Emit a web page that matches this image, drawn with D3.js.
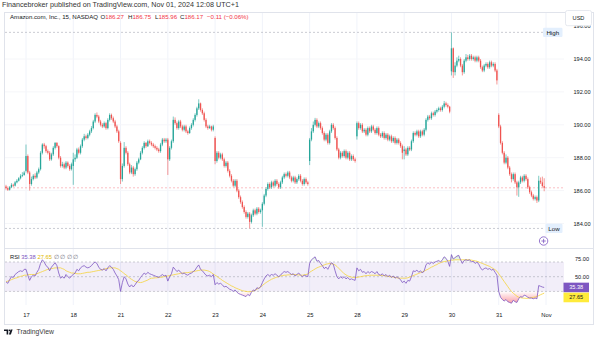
<!DOCTYPE html>
<html><head><meta charset="utf-8">
<script src="https://cdn.jsdelivr.net/npm/d3@7"></script>
<style>
html,body{margin:0;padding:0;background:#fff;}
svg{display:block;font-family:"Liberation Sans",Arial,sans-serif;}
</style></head><body>
<svg id="chart" width="600" height="337"></svg>
<script>
// Session start (bar index) and label of each trading day on the time axis
const dayStarts = [11, 37, 63, 89, 115, 141, 167, 193, 219, 245, 271, 297];
const dayLabels = ["17", "18", "21", "22", "23", "24", "25", "28", "29", "30", "31", "Nov"];
const priceTicks = [184, 186, 188, 190, 192, 194, 196];
const rsiTicks = [75, 50];
const rsiBands = [70, 50, 30];

// AMZN 15-minute bars, Oct 16 (last hour) to Oct 31
const opens = [
  186.25,186.15,186.05,186.20,186.35,186.30,186.50,186.60,186.75,186.90,186.95,
  187.20,188.10,187.10,186.40,186.70,186.90,186.80,187.10,187.30,188.30,188.80,188.70,188.40,188.30,187.90,188.20,188.60,188.90,188.70,188.00,187.50,187.60,187.40,187.70,187.50,187.30,
  187.50,187.90,188.00,188.50,188.30,188.70,189.10,189.30,189.20,189.40,189.60,189.80,190.20,190.60,190.50,190.20,190.00,189.90,190.10,189.80,190.30,190.60,190.40,190.20,189.90,189.60,
  188.90,186.70,187.50,188.60,188.30,187.60,187.10,187.40,187.00,187.30,187.70,187.90,188.30,188.60,188.90,188.70,189.00,188.90,188.80,188.70,188.60,188.50,188.40,188.80,189.10,189.00,
  189.10,187.90,188.60,189.00,190.30,190.10,189.80,190.20,189.90,189.70,189.90,189.60,189.50,189.80,190.00,190.30,190.60,191.00,191.30,190.90,190.70,190.30,189.90,189.80,189.90,189.70,
  189.20,187.80,188.30,188.00,188.20,187.90,187.50,187.70,187.20,186.90,186.60,186.30,186.60,186.00,185.60,185.30,185.00,184.70,184.40,184.60,184.10,184.50,184.80,184.60,184.90,184.70,
  184.80,185.20,185.70,186.10,186.40,186.20,186.50,186.30,186.60,186.40,186.20,186.50,186.80,187.00,186.90,187.10,186.80,186.60,186.80,186.50,186.70,186.90,186.60,186.40,186.70,186.50,
  187.80,189.10,189.60,190.00,190.30,189.90,190.10,189.80,189.50,189.10,189.40,188.90,189.60,190.00,189.80,189.20,188.50,188.00,188.30,188.10,188.40,188.00,188.30,187.90,188.10,187.90,
  189.30,190.10,189.80,190.00,189.60,189.70,189.40,189.80,189.60,189.90,189.70,189.50,189.80,189.40,189.30,189.50,189.20,189.40,189.10,189.30,189.00,189.20,188.90,189.10,188.90,188.70,
  188.40,188.50,188.20,188.60,188.50,189.00,189.50,189.40,189.60,189.30,189.60,189.40,189.70,190.30,190.50,190.40,190.70,190.60,190.80,190.90,191.00,190.90,191.10,191.30,191.20,191.10,
  193.25,194.65,193.20,193.60,193.90,194.00,193.60,193.20,193.90,194.10,194.00,194.20,194.00,194.10,193.90,194.10,193.90,193.50,193.30,193.60,193.70,193.50,193.80,193.60,193.70,193.30,
  190.60,189.90,188.90,188.30,187.70,188.00,187.40,187.00,186.70,187.00,186.50,186.20,186.50,186.80,186.60,186.90,186.70,186.20,185.90,185.70,185.50,185.60,185.40,186.60,186.50,186.27
];
const highs = [
  186.35,186.25,186.28,186.45,186.42,186.58,186.70,186.82,187.00,187.12,187.20,
  188.80,188.20,187.20,186.85,187.00,187.05,187.20,187.40,188.40,188.88,188.90,188.78,188.50,188.40,188.30,188.70,188.95,188.95,188.75,188.10,187.75,187.70,187.80,187.78,187.60,187.70,
  188.30,188.20,188.60,188.62,188.80,189.20,189.45,189.40,189.50,189.70,189.92,190.30,190.70,190.75,190.60,190.30,190.10,190.20,190.18,190.40,190.70,190.68,190.50,190.30,190.00,189.70,
  189.00,187.65,188.95,188.70,188.40,187.70,187.55,187.50,187.40,187.80,188.00,188.40,188.70,189.00,188.95,189.10,189.10,189.00,188.90,188.80,188.70,188.60,188.90,189.20,189.20,189.20,
  189.20,188.70,189.10,190.50,190.45,190.20,190.30,190.30,190.00,190.00,190.00,189.70,189.90,190.10,190.40,190.70,191.10,191.55,191.35,191.00,190.80,190.40,190.00,190.00,189.95,190.00,
  189.30,188.40,188.40,188.30,188.30,188.00,187.80,187.80,187.30,187.00,186.70,186.70,186.70,186.10,185.70,185.40,185.10,184.80,184.70,184.70,184.60,184.90,184.90,185.00,185.00,184.90,
  185.30,185.80,186.20,186.50,186.50,186.60,186.60,186.70,186.70,186.50,186.60,186.90,187.10,187.10,187.20,187.20,186.90,186.90,186.90,186.80,187.00,187.00,186.70,186.80,186.80,186.60,
  189.20,189.80,190.20,190.42,190.40,190.20,190.20,189.90,189.60,189.50,189.50,189.70,190.10,190.10,189.90,189.30,188.60,188.40,188.40,188.50,188.50,188.40,188.40,188.20,188.20,188.00,
  190.20,190.20,190.10,190.10,189.80,189.80,189.90,189.90,190.00,190.00,189.80,189.90,189.90,189.50,189.60,189.60,189.50,189.50,189.40,189.40,189.30,189.30,189.20,189.20,189.00,188.80,
  188.70,188.60,188.70,188.70,189.10,189.60,189.60,189.70,189.70,189.70,189.70,189.80,190.40,190.60,190.60,190.80,190.80,190.90,191.00,191.10,191.10,191.20,191.45,191.40,191.30,191.15,
  195.62,194.70,193.80,194.10,194.20,194.10,193.70,194.00,194.30,194.25,194.30,194.30,194.20,194.20,194.20,194.20,194.00,193.60,193.70,193.80,193.80,193.90,193.90,193.80,193.80,193.40,
  190.70,190.00,189.00,188.40,188.20,188.10,187.50,187.10,187.10,187.10,186.60,186.60,186.90,186.90,187.00,187.00,186.80,186.30,186.00,185.80,185.70,185.70,186.90,186.80,186.85,186.75
];
const lows = [
  186.05,185.98,186.00,186.15,186.22,186.25,186.44,186.55,186.68,186.82,186.90,
  187.10,187.00,186.00,186.30,186.62,186.70,186.72,187.00,187.22,188.20,188.55,188.30,188.20,187.80,187.82,188.10,188.50,188.60,187.90,187.40,187.40,187.30,187.30,187.40,187.20,187.22,
  186.35,187.75,187.92,188.20,188.20,188.60,189.00,189.10,189.12,189.30,189.50,189.72,190.10,190.40,190.10,189.90,189.80,189.82,189.70,189.72,190.20,190.30,190.10,189.80,189.50,188.90,
  186.40,186.55,187.40,188.20,187.50,187.00,187.00,186.85,186.90,187.20,187.60,187.85,188.20,188.50,188.60,188.65,188.80,188.70,188.60,188.50,188.40,188.30,188.30,188.70,188.90,188.90,
  186.95,187.80,188.50,188.90,190.00,189.70,189.70,189.80,189.60,189.60,189.50,189.40,189.45,189.70,189.90,190.20,190.50,190.90,190.80,190.60,190.20,189.80,189.70,189.75,189.60,189.60,
  187.60,187.70,187.90,187.90,187.80,187.40,187.40,187.10,186.80,186.50,186.20,186.20,185.90,185.50,185.20,184.90,184.60,184.30,184.30,183.70,184.00,184.40,184.50,184.50,184.60,184.60,
  183.80,185.10,185.60,186.00,186.10,186.10,186.20,186.20,186.30,186.10,186.10,186.40,186.70,186.80,186.80,186.70,186.50,186.50,186.40,186.40,186.60,186.50,186.30,186.30,186.40,186.30,
  187.55,189.00,189.50,189.90,189.80,189.80,189.70,189.40,189.00,189.00,188.80,188.80,189.50,189.70,189.10,188.40,187.90,187.90,188.00,188.00,187.90,187.90,187.80,187.80,187.80,187.70,
  189.10,189.70,189.70,189.50,189.50,189.30,189.30,189.50,189.50,189.60,189.40,189.40,189.30,189.20,189.20,189.10,189.10,189.00,189.00,188.90,188.90,188.80,188.80,188.80,188.60,187.90,
  187.90,188.10,188.10,188.40,188.40,188.90,189.30,189.30,189.20,189.20,189.30,189.30,189.60,190.20,190.30,190.30,190.50,190.50,190.70,190.80,190.80,190.80,191.00,191.10,191.00,190.70,
  193.00,192.85,193.00,193.50,193.80,193.50,193.00,193.10,193.80,193.90,193.90,193.90,193.90,193.80,193.80,193.80,193.40,193.20,193.20,193.50,193.40,193.40,193.50,193.50,193.20,192.45,
  189.80,188.80,188.20,187.60,187.60,187.30,186.90,186.50,186.60,186.40,185.70,185.62,186.40,186.50,186.50,186.60,186.10,185.80,185.60,185.40,185.40,185.25,185.30,186.40,186.20,185.96
];
const closes = [
  186.15,186.05,186.20,186.35,186.30,186.50,186.60,186.75,186.90,186.95,187.10,
  188.10,187.10,186.40,186.70,186.90,186.80,187.10,187.30,188.30,188.80,188.70,188.40,188.30,187.90,188.20,188.60,188.90,188.70,188.00,187.50,187.60,187.40,187.70,187.50,187.30,187.60,
  187.90,188.00,188.50,188.30,188.70,189.10,189.30,189.20,189.40,189.60,189.80,190.20,190.60,190.50,190.20,190.00,189.90,190.10,189.80,190.30,190.60,190.40,190.20,189.90,189.60,189.00,
  186.70,187.50,188.60,188.30,187.60,187.10,187.40,187.00,187.30,187.70,187.90,188.30,188.60,188.90,188.70,189.00,188.90,188.80,188.70,188.60,188.50,188.40,188.80,189.10,189.00,189.10,
  187.90,188.60,189.00,190.30,190.10,189.80,190.20,189.90,189.70,189.90,189.60,189.50,189.80,190.00,190.30,190.60,191.00,191.30,190.90,190.70,190.30,189.90,189.80,189.90,189.70,189.90,
  187.80,188.30,188.00,188.20,187.90,187.50,187.70,187.20,186.90,186.60,186.30,186.60,186.00,185.60,185.30,185.00,184.70,184.40,184.60,184.10,184.50,184.80,184.60,184.90,184.70,184.80,
  185.20,185.70,186.10,186.40,186.20,186.50,186.30,186.60,186.40,186.20,186.50,186.80,187.00,186.90,187.10,186.80,186.60,186.80,186.50,186.70,186.90,186.60,186.40,186.70,186.50,186.40,
  189.10,189.60,190.00,190.30,189.90,190.10,189.80,189.50,189.10,189.40,188.90,189.60,190.00,189.80,189.20,188.50,188.00,188.30,188.10,188.40,188.00,188.30,187.90,188.10,187.90,187.80,
  190.10,189.80,190.00,189.60,189.70,189.40,189.80,189.60,189.90,189.70,189.50,189.80,189.40,189.30,189.50,189.20,189.40,189.10,189.30,189.00,189.20,188.90,189.10,188.90,188.70,188.30,
  188.50,188.20,188.60,188.50,189.00,189.50,189.40,189.60,189.30,189.60,189.40,189.70,190.30,190.50,190.40,190.70,190.60,190.80,190.90,191.00,190.90,191.10,191.30,191.20,191.10,190.80,
  194.65,193.20,193.60,193.90,194.00,193.60,193.20,193.90,194.10,194.00,194.20,194.00,194.10,193.90,194.10,193.90,193.50,193.30,193.60,193.70,193.50,193.80,193.60,193.70,193.30,192.70,
  189.90,188.90,188.30,187.70,188.00,187.40,187.00,186.70,187.00,186.50,186.20,186.50,186.80,186.60,186.90,186.70,186.20,185.90,185.70,185.50,185.60,185.40,186.60,186.50,186.28,186.17
];

// RSI (14, close) and its 14-bar moving average
const rsi = [
  43,41,46,50,49,53,55,57,58,57,60,
  60,52,45,50,52,51,56,60,68,73,70,65,63,58,63,66,69,65,55,48,50,48,53,50,48,51,
  53,55,60,58,62,64,65,63,62,63,65,68,70,68,63,60,59,61,58,62,65,63,60,55,51,46,
  30,42,50,47,40,36,39,36,39,43,45,49,52,55,53,56,54,53,52,51,50,49,51,53,51,52,
  44,50,54,63,60,57,59,56,54,55,53,52,54,55,57,59,63,66,60,58,55,52,51,52,50,53,
  39,42,40,41,39,36,37,35,33,32,30,32,29,27,26,25,24,23,26,24,29,32,31,35,34,36,
  42,47,51,53,51,53,52,54,52,50,52,55,57,56,57,55,53,54,51,53,55,52,50,52,51,50,
  68,73,75,77,71,72,68,65,61,63,60,65,69,67,58,50,47,50,48,50,47,49,46,47,46,45,
  62,58,60,56,57,54,57,55,57,56,54,57,53,52,54,51,53,50,52,49,51,48,50,48,46,42,
  44,41,45,44,50,58,57,59,56,58,55,58,66,69,67,70,68,70,71,72,70,73,77,75,71,64,
  80,74,76,78,79,73,68,72,73,72,73,70,71,68,70,67,62,59,61,62,60,61,59,60,56,52,
  30,22,19,17,19,16,15,14,18,16,15,20,23,22,25,24,22,21,21,20,21,20,38,37,36,35.38
];
const rsiMA = [
  43,44,45,46,47,48,48.5,49.5,50.5,51,52,
  52,52.5,53,53,53,53,54,55,56,57,58,59,60,60.5,61,61.5,62,62,62,62,61,60,58,57,56,55,
  55,54.5,54,54,54,54.5,55,55.5,56,56,56.5,57,57.5,58,58.5,59,59.5,60,61,61.5,62,62,62,62,61,60,
  58,56.5,54,52.5,50.5,48,46.5,45,43.5,43,42.5,42,42.5,43.5,44.5,45.5,47,48,48,48.5,48.5,49,49,49.5,50,50.5,
  51,51.5,52,52.5,53,53.5,54,54.5,55,55,55.5,55.5,56,56.5,57,57.5,58,58.5,59,59,59,58.5,58,57,55.5,53.5,
  52,50.5,48.5,47,45,43.5,42,40.5,39,37.5,36.5,35,34,33,32,31,30.5,30,29.6,29.6,30,30.5,31.5,33,34.5,36,
  38,40,42,43.5,45,46.5,47.5,48.5,49.5,50,51,51.5,52,52,52.5,52.5,53,53,53,52.5,52.5,52,52,52.5,53,53.5,
  56,57.5,59,60.5,62,63,64,65,66,67,67.5,68,67.5,67,66,64,61.5,59,56.5,54,52.5,51,50,49.5,49,49,
  49,49.5,50,50.5,51,51.5,51.5,52,52,52,52,52,52,52,51.5,51.5,51,50.5,50,50,49.5,49,48.5,48,48,48,
  48,48,48.5,49.5,50.5,51.5,52.5,53.5,54.5,55.5,56.5,57.5,59,60,61.5,63,64,65.5,66.5,68,69,70,70.5,71,71.5,72,
  72.5,72.5,73,73,73,73,73,73,73,73,73,72.5,72,71.5,71,70,69,68,67,66,65,64,62.5,61,59.5,57.5,
  54,50.5,47,43.5,40,36.5,33,30,27.5,25.5,23.5,22,21.5,21,20.8,20.6,20.6,21,21.5,22,22.5,23,24.3,25.5,26.6,27.65
];

const UP = "#26a69a", DOWN = "#ef5350", RED_TXT = "#f23645";
const TXT = "#131722", GRID = "#f0f3fa", BORDER = "#e0e3eb";
const RSI_COL = "#7e57c2", MA_COL = "#f5d33b";

const svg = d3.select("#chart");
const paneL = 5, paneR = 564, paneT = 13, paneB = 248, rsiB = 305;

const bars = closes.map((c, i) => ({i, o: opens[i], h: highs[i], l: lows[i], c}));
const x = d3.scaleLinear().domain([dayStarts[0], dayStarts[dayStarts.length - 1]]).range([26, 546]);
const y = d3.scaleLinear().domain([184, 196]).range([223.5, 26.1]);
const yR = d3.scaleLinear().domain([25, 75]).range([295.1, 258.3]);

// ---- header ----
svg.append("text").attr("x", 2).attr("y", 6.6).attr("font-size", 7.2).attr("fill", "#333")
  .text("Financebroker published on TradingView.com, Nov 01, 2024 12:08 UTC+1");

// outer frame
svg.append("rect").attr("x", 4.5).attr("y", 12.5).attr("width", 589).attr("height", 312)
  .attr("fill", "none").attr("stroke", BORDER).attr("stroke-width", 1);

const defs = svg.append("defs");
defs.append("clipPath").attr("id", "mainClip").append("rect")
  .attr("x", paneL).attr("y", paneT).attr("width", paneR - paneL).attr("height", paneB - paneT);
defs.append("clipPath").attr("id", "rsiClip").append("rect")
  .attr("x", paneL).attr("y", paneB + 1).attr("width", paneR - paneL).attr("height", rsiB - paneB - 1);

// ---- grid ----
const grid = svg.append("g");
grid.selectAll("line.v").data(dayStarts).join("line")
  .attr("x1", d => x(d)).attr("x2", d => x(d)).attr("y1", paneT).attr("y2", rsiB)
  .attr("stroke", GRID).attr("stroke-width", 1);
grid.selectAll("line.h").data(priceTicks.filter(p => p < 196)).join("line")
  .attr("x1", paneL).attr("x2", paneR).attr("y1", d => y(d)).attr("y2", d => y(d))
  .attr("stroke", "#f5f6f9").attr("stroke-width", 1);

// pane separator
svg.append("line").attr("x1", paneL).attr("x2", 593).attr("y1", paneB + 0.5).attr("y2", paneB + 0.5)
  .attr("stroke", BORDER).attr("stroke-width", 1);

// ---- high / low markers ----
const hiVal = d3.max(highs), loVal = d3.min(lows);
[[hiVal, "High"], [loVal, "Low"]].forEach(([v, lab]) => {
  svg.append("line").attr("x1", paneL).attr("x2", 543).attr("y1", y(v)).attr("y2", y(v))
    .attr("stroke", "#b2b5be").attr("stroke-width", 0.7).attr("stroke-dasharray", "2,2");
  const w = lab === "High" ? 19.5 : 17;
  svg.append("rect").attr("x", 562.5 - w).attr("y", y(v) - 4.6).attr("width", w).attr("height", 9.2)
    .attr("rx", 1.2).attr("fill", "#e3effd");
  svg.append("text").attr("x", 562.5 - w / 2).attr("y", y(v) + 2.2).attr("text-anchor", "middle")
    .attr("font-size", 6.2).attr("fill", TXT).text(lab);
});

// last price line
const last = bars[bars.length - 1];
svg.append("line").attr("x1", paneL).attr("x2", paneR).attr("y1", y(last.c)).attr("y2", y(last.c))
  .attr("stroke", RED_TXT).attr("stroke-opacity", 0.45).attr("stroke-width", 0.7).attr("stroke-dasharray", "2,2");

// ---- candles ----
const cg = svg.append("g").attr("clip-path", "url(#mainClip)");
cg.selectAll("line.wick").data(bars).join("line")
  .attr("x1", d => x(d.i)).attr("x2", d => x(d.i))
  .attr("y1", d => y(d.h)).attr("y2", d => y(d.l))
  .attr("stroke", d => d.c >= d.o ? UP : DOWN).attr("stroke-width", 0.6);
cg.selectAll("rect.body").data(bars).join("rect")
  .attr("x", d => x(d.i) - 0.65).attr("width", 1.3)
  .attr("y", d => y(Math.max(d.o, d.c)))
  .attr("height", d => Math.max(0.7, Math.abs(y(d.o) - y(d.c))))
  .attr("fill", d => d.c >= d.o ? UP : DOWN);

// ---- RSI pane ----
const rg = svg.append("g").attr("clip-path", "url(#rsiClip)");
rg.append("rect").attr("x", paneL).attr("width", paneR - paneL)
  .attr("y", yR(70)).attr("height", yR(30) - yR(70)).attr("fill", RSI_COL).attr("fill-opacity", 0.1);
rg.selectAll("line.band").data(rsiBands).join("line")
  .attr("x1", paneL).attr("x2", paneR).attr("y1", d => yR(d)).attr("y2", d => yR(d))
  .attr("stroke", "#787b86").attr("stroke-opacity", 0.6).attr("stroke-width", 0.6).attr("stroke-dasharray", "2,2");

const gOB = defs.append("linearGradient").attr("id", "ob").attr("gradientUnits", "userSpaceOnUse")
  .attr("x1", 0).attr("x2", 0).attr("y1", yR(100)).attr("y2", yR(70));
gOB.append("stop").attr("offset", 0).attr("stop-color", "#4caf50").attr("stop-opacity", 0.9);
gOB.append("stop").attr("offset", 1).attr("stop-color", "#4caf50").attr("stop-opacity", 0);
const gOS = defs.append("linearGradient").attr("id", "os").attr("gradientUnits", "userSpaceOnUse")
  .attr("x1", 0).attr("x2", 0).attr("y1", yR(30)).attr("y2", yR(0));
gOS.append("stop").attr("offset", 0).attr("stop-color", "#f23645").attr("stop-opacity", 0);
gOS.append("stop").attr("offset", 1).attr("stop-color", "#f23645").attr("stop-opacity", 0.9);

rg.append("path").datum(rsi)
  .attr("d", d3.area().x((d, i) => x(i)).y0(yR(70)).y1(d => yR(Math.max(d, 70))))
  .attr("fill", "url(#ob)");
rg.append("path").datum(rsi)
  .attr("d", d3.area().x((d, i) => x(i)).y0(yR(30)).y1(d => yR(Math.min(d, 30))))
  .attr("fill", "url(#os)");

rg.append("path").datum(rsiMA)
  .attr("d", d3.line().x((d, i) => x(i)).y(d => yR(d)))
  .attr("fill", "none").attr("stroke", MA_COL).attr("stroke-width", 0.8);
rg.append("path").datum(rsi)
  .attr("d", d3.line().x((d, i) => x(i)).y(d => yR(d)))
  .attr("fill", "none").attr("stroke", RSI_COL).attr("stroke-width", 0.8);

// ---- axes ----
const priceAxis = d3.axisRight(y).tickValues(priceTicks).tickFormat(d3.format(".2f")).tickSize(0).tickPadding(0);
const pa = svg.append("g").attr("transform", "translate(582,0)").call(priceAxis);
pa.select(".domain").remove();
pa.selectAll("text").attr("text-anchor", "middle").attr("font-size", 5.6).attr("fill", TXT)
  .attr("font-family", "Liberation Sans, Arial, sans-serif");

const rsiAxis = d3.axisRight(yR).tickValues(rsiTicks).tickFormat(d3.format(".2f")).tickSize(0).tickPadding(0);
const ra = svg.append("g").attr("transform", "translate(582,0)").call(rsiAxis);
ra.select(".domain").remove();
ra.selectAll("text").attr("text-anchor", "middle").attr("font-size", 5.6).attr("fill", TXT)
  .attr("font-family", "Liberation Sans, Arial, sans-serif");

const timeAxis = d3.axisBottom(x).tickValues(dayStarts).tickFormat((d, i) => dayLabels[i]).tickSize(0).tickPadding(0);
const ta = svg.append("g").attr("transform", "translate(0,313)").call(timeAxis);
ta.select(".domain").remove();
ta.selectAll("text").attr("font-size", 5.8).attr("fill", TXT)
  .attr("font-family", "Liberation Sans, Arial, sans-serif");

// currency box (sits over the upper half of the top price label)
svg.append("rect").attr("x", 565.5).attr("y", 10.5).attr("width", 26).attr("height", 15.2).attr("rx", 2)
  .attr("fill", "#fff").attr("stroke", BORDER).attr("stroke-width", 0.8);
svg.append("text").attr("x", 578.5).attr("y", 19.6).attr("text-anchor", "middle")
  .attr("font-size", 5.6).attr("fill", TXT).text("USD");

// RSI value tags
const rsiLast = rsi[rsi.length - 1], maLast = rsiMA[rsiMA.length - 1];
const tagH = 9.6, tagY1 = yR(rsiLast), tagY2 = Math.max(yR(maLast), tagY1 + tagH + 0.4);
svg.append("rect").attr("x", 563.5).attr("y", tagY1 - tagH / 2).attr("width", 25.5).attr("height", tagH)
  .attr("fill", RSI_COL);
svg.append("text").attr("x", 576.2).attr("y", tagY1 + 2).attr("text-anchor", "middle")
  .attr("font-size", 5.6).attr("fill", "#fff").text(rsiLast.toFixed(2));
svg.append("rect").attr("x", 563.5).attr("y", tagY2 - tagH / 2).attr("width", 25.5).attr("height", tagH)
  .attr("fill", "#ffeb3b");
svg.append("text").attr("x", 576.2).attr("y", tagY2 + 2).attr("text-anchor", "middle")
  .attr("font-size", 5.6).attr("fill", TXT).text(maLast.toFixed(2));

// ---- legends ----
const change = last.c - closes[closes.length - 2];
const pct = change / closes[closes.length - 2] * 100;
const fmtSigned = v => (v < 0 ? "\u2212" : "+") + Math.abs(v).toFixed(2);
const title = svg.append("g").attr("font-size", 6.1);
title.append("text").attr("x", 10).attr("y", 18.6).attr("fill", TXT).text("Amazon.com, Inc., 15, NASDAQ");
[["O", last.o, 100.5], ["H", last.h, 128], ["L", last.l, 155], ["C", last.c, 180]].forEach(([k, v, px]) => {
  const t = title.append("text").attr("x", px).attr("y", 18.6);
  t.append("tspan").attr("fill", TXT).text(k);
  t.append("tspan").attr("fill", RED_TXT).text(v.toFixed(2));
});
title.append("text").attr("x", 207).attr("y", 18.6).attr("fill", RED_TXT)
  .text(fmtSigned(change) + " (" + fmtSigned(pct) + "%)");

const leg = svg.append("text").attr("x", 10).attr("y", 258.8).attr("font-size", 5.8);
leg.append("tspan").attr("fill", TXT).text("RSI ");
leg.append("tspan").attr("fill", RSI_COL).text(rsiLast.toFixed(2) + " ");
leg.append("tspan").attr("fill", "#e0b800").text(maLast.toFixed(2) + " ");
leg.append("tspan").attr("fill", "#6a6d78").text("\u2205 \u2205 \u2205 \u2205");

// add-indicator button
svg.append("circle").attr("cx", 543.6).attr("cy", 241).attr("r", 4.2)
  .attr("fill", "#fff").attr("stroke", RSI_COL).attr("stroke-width", 0.8);
svg.append("path").attr("d", "M541.4,241H545.8M543.6,238.8V243.2")
  .attr("stroke", RSI_COL).attr("stroke-width", 0.8);

// footer logo
const logo = svg.append("g").attr("fill", TXT);
logo.append("path").attr("d", "M4,329.6H8.2V334.6H6.6V331.1H4Z");
logo.append("circle").attr("cx", 9.4).attr("cy", 330.4).attr("r", 0.8);
logo.append("path").attr("d", "M10.6,329.6H12.6L10.9,334.6H8.9Z");
svg.append("text").attr("x", 16.5).attr("y", 334.4).attr("font-size", 6.8).attr("fill", "#3b3b3b")
  .text("TradingView");
</script>
</body></html>
